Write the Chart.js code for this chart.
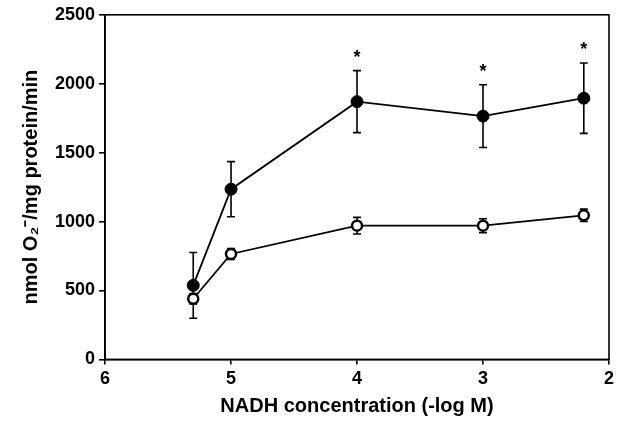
<!DOCTYPE html>
<html>
<head>
<meta charset="utf-8">
<script src="https://cdn.jsdelivr.net/npm/chart.js@4.4.0/dist/chart.umd.min.js"></script>
<style>
  html, body { margin: 0; padding: 0; background: #fff; }
  #wrap { width: 624px; height: 422px; }
</style>
</head>
<body>
<div id="wrap"><canvas id="myChart"></canvas></div>
<script>
// NADH concentration (-log M)
let concentrations = [5.3, 5, 4, 3, 2.2];

// filled circles
let filledValues = [537, 1235, 1870, 1765, 1895];
let filledErrors = [238, 200, 225, 228, 255];

// open circles
let openValues = [440, 765, 970, 970, 1045];
let openErrors = [38, 40, 60, 50, 45];

// significance marks (over filled series)
let starPoints = [4, 3, 2.2];

let yTicks = [0, 500, 1000, 1500, 2000, 2500];

let fontFamily = '"Liberation Sans", Arial, sans-serif';

function toPoints(vals) {
    return concentrations.map((c, i) => ({ x: c, y: vals[i] }));
}

// error bars + asterisks + frame
let errorBarPlugin = {
    id: 'errorBars',
    beforeDatasetsDraw(chart) {
        let ctx = chart.ctx;
        let xs = chart.scales.x, ys = chart.scales.y;
        let sets = [[filledValues, filledErrors], [openValues, openErrors]];
        ctx.save();
        ctx.strokeStyle = '#000';
        ctx.lineWidth = 1.6;
        sets.forEach(s => {
            s[0].forEach((v, i) => {
                let px = xs.getPixelForValue(concentrations[i]);
                let top = ys.getPixelForValue(v + s[1][i]);
                let bot = ys.getPixelForValue(v - s[1][i]);
                ctx.beginPath();
                ctx.moveTo(px, top); ctx.lineTo(px, bot);
                ctx.moveTo(px - 4, top); ctx.lineTo(px + 4, top);
                ctx.moveTo(px - 4, bot); ctx.lineTo(px + 4, bot);
                ctx.stroke();
            });
        });
        ctx.restore();
    },
    afterDraw(chart) {
        let ctx = chart.ctx;
        let a = chart.chartArea;
        let xs = chart.scales.x, ys = chart.scales.y;
        ctx.save();
        ctx.strokeStyle = '#000';
        ctx.lineWidth = 1.6;
        ctx.strokeRect(a.left, a.top, a.right - a.left, a.bottom - a.top);
        ctx.fillStyle = '#000';
        ctx.font = 'bold 18px ' + fontFamily;
        ctx.textAlign = 'center';
        ctx.textBaseline = 'middle';
        starPoints.forEach(sx => {
            let i = concentrations.indexOf(sx);
            let top = ys.getPixelForValue(filledValues[i] + filledErrors[i]);
            ctx.fillText('*', xs.getPixelForValue(sx), top - 13);
        });
        ctx.restore();
    }
};

let config = {
    type: 'line',
    data: {
        datasets: [
            {
                label: 'filled',
                data: toPoints(filledValues),
                borderColor: '#000',
                borderWidth: 1.8,
                backgroundColor: '#000',
                pointBackgroundColor: '#000',
                pointBorderColor: '#000',
                pointBorderWidth: 1,
                pointRadius: 6,
                tension: 0
            },
            {
                label: 'open',
                data: toPoints(openValues),
                borderColor: '#000',
                borderWidth: 1.8,
                pointBackgroundColor: '#fff',
                pointBorderColor: '#000',
                pointBorderWidth: 2.5,
                pointRadius: 5,
                tension: 0
            }
        ]
    },
    options: {
        responsive: true,
        maintainAspectRatio: false,
        animation: false,
        layout: { padding: { top: 14, right: 15, left: 19, bottom: 4 } },
        plugins: {
            legend: { display: false },
            tooltip: { enabled: false }
        },
        scales: {
            x: {
                type: 'linear',
                reverse: true,
                min: 2,
                max: 6,
                grid: { display: true, drawOnChartArea: false, drawTicks: true, tickLength: 5, color: '#000', lineWidth: 1.6 },
                border: { display: true, color: '#000', width: 1.6 },
                ticks: {
                    stepSize: 1,
                    color: '#000',
                    padding: 4,
                    font: { family: fontFamily, size: 18, weight: 'bold' }
                },
                title: {
                    display: true,
                    text: 'NADH concentration (-log M)',
                    color: '#000',
                    padding: { top: 0, bottom: 0 },
                    font: { family: fontFamily, size: 20, weight: 'bold' }
                }
            },
            y: {
                min: 0,
                max: 2500,
                afterBuildTicks(axis) { axis.ticks = yTicks.map(v => ({ value: v })); },
                grid: { display: true, drawOnChartArea: false, drawTicks: true, tickLength: 6, color: '#000', lineWidth: 1.6 },
                border: { display: true, color: '#000', width: 1.6 },
                ticks: {
                    color: '#000',
                    padding: 4,
                    callback: v => String(v),
                    font: { family: fontFamily, size: 18, weight: 'bold' }
                },
                title: {
                    display: true,
                    text: 'nmol O\u2082\u207B/mg protein/min',
                    color: '#000',
                    padding: { top: 0, bottom: 8 },
                    font: { family: fontFamily, size: 20, weight: 'bold' }
                }
            }
        }
    },
    plugins: [errorBarPlugin]
};

var myChart = new Chart(document.getElementById('myChart'), config);
</script>
</body>
</html>
